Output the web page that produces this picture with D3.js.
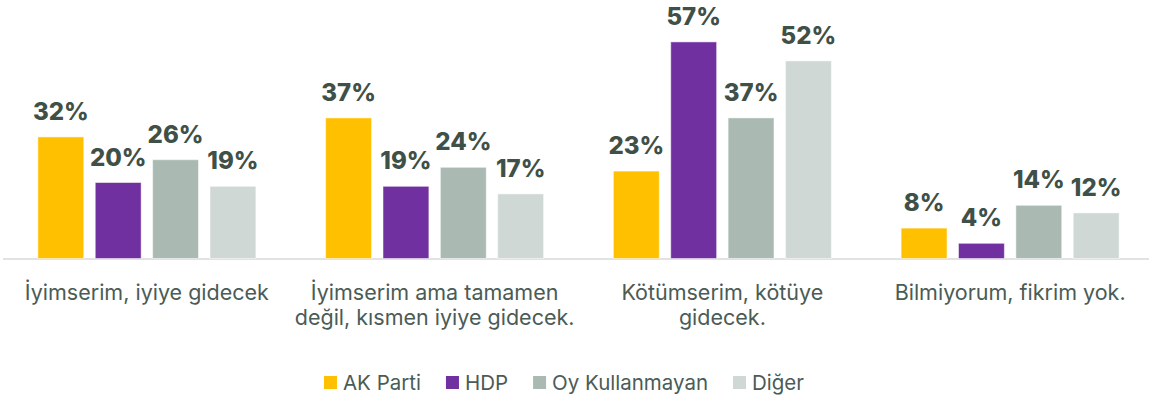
<!DOCTYPE html>
<html>
<head>
<meta charset="utf-8">
<script src="https://cdn.jsdelivr.net/npm/d3@7"></script>
<style>
  body { margin: 0; background: #fff; }
  svg { display: block; }
</style>
</head>
<body>
<svg width="1149" height="401"></svg>
<script>
let categories = [
  "İyimserim, iyiye gidecek",
  "İyimserim ama tamamen\ndeğil, kısmen iyiye gidecek.",
  "Kötümserim, kötüye\ngidecek.",
  "Bilmiyorum, fikrim yok."
];
let series = ["AK Parti", "HDP", "Oy Kullanmayan", "Diğer"];
let akParti = [32, 37, 23, 8];
let hdp = [20, 19, 57, 4];
let oyKullanmayan = [26, 24, 37, 14];
let diger = [19, 17, 52, 12];
let colors = ["#ffc000", "#7030a0", "#aabab2", "#cfd8d5"];

let values = [akParti, hdp, oyKullanmayan, diger];
let width = 1149;
let baseline = 258.5;
let font = "Inter, 'Open Sans', sans-serif";

let svg = d3.select("svg");

let x0 = d3.scaleBand().domain(categories).range([3, 1154]).padding(0);
let x1 = d3.scaleBand().domain(series).range([0, 218]).paddingInner(0.2).paddingOuter(0);
let y = d3.scaleLinear().domain([0, 60]).range([baseline, baseline - 60 * 3.8]);
let groupOffset = (x0.bandwidth() - 218) / 2;

let rows = categories.map((c, i) => ({
  cat: c,
  bars: series.map((s, j) => ({ s: s, v: values[j][i], color: colors[j] }))
}));

// axis line
svg.append("line")
  .attr("x1", 3)
  .attr("x2", width)
  .attr("y1", baseline + 0.5)
  .attr("y2", baseline + 0.5)
  .style("stroke", "#d9d9d9")
  .style("stroke-width", 1.5);

let groups = svg.append("g")
  .selectAll("g")
  .data(rows)
  .join("g")
  .attr("transform", (d) => `translate(${x0(d.cat) + groupOffset},0)`);

groups.selectAll("rect")
  .data((d) => d.bars)
  .join("rect")
  .attr("x", (d) => x1(d.s))
  .attr("width", x1.bandwidth())
  .attr("y", (d) => y(d.v))
  .attr("height", (d) => baseline - y(d.v))
  .style("fill", (d) => d.color)
  .style("stroke", "rgba(255,255,255,0.5)")
  .style("stroke-width", 1);

groups.selectAll("text.val")
  .data((d) => d.bars)
  .join("text")
  .attr("class", "val")
  .attr("x", (d) => x1(d.s) + x1.bandwidth() / 2)
  .attr("y", (d) => y(d.v) - 17)
  .attr("text-anchor", "middle")
  .style("font-family", font)
  .style("font-weight", 800)
  .style("font-size", "24px")
  .style("fill", "#3f5048")
  .text((d) => d.v + "%");

// category labels
svg.append("g")
  .selectAll("text")
  .data(categories)
  .join("text")
  .attr("x", (d) => x0(d) + x0.bandwidth() / 2)
  .attr("y", 300)
  .attr("text-anchor", "middle")
  .style("font-family", font)
  .style("font-size", "21.5px")
  .style("fill", "#4b5b55")
  .each(function (d) {
    d3.select(this)
      .selectAll("tspan")
      .data(d.split("\n"))
      .join("tspan")
      .attr("x", x0(d) + x0.bandwidth() / 2)
      .attr("dy", (t, i) => (i === 0 ? 0 : 25))
      .text((t) => t);
  });

// legend
let legend = svg.append("g");
let items = legend.selectAll("g")
  .data(series)
  .join("g");

items.append("rect")
  .attr("width", 13)
  .attr("height", 13)
  .attr("y", 376)
  .style("fill", (d, i) => colors[i]);

items.append("text")
  .attr("x", 19)
  .attr("y", 389.5)
  .style("font-family", font)
  .style("font-size", "20.5px")
  .style("fill", "#4b5b55")
  .text((d) => d);

let pos = 0;
let offsets = [];
items.each(function () {
  offsets.push(pos);
  let w = d3.select(this).select("text").node().getComputedTextLength();
  pos += 19 + w + 25;
});
let total = pos - 25;
let start = 564 - total / 2;
items.attr("transform", (d, i) => `translate(${start + offsets[i]},0)`);
</script>
</body>
</html>
